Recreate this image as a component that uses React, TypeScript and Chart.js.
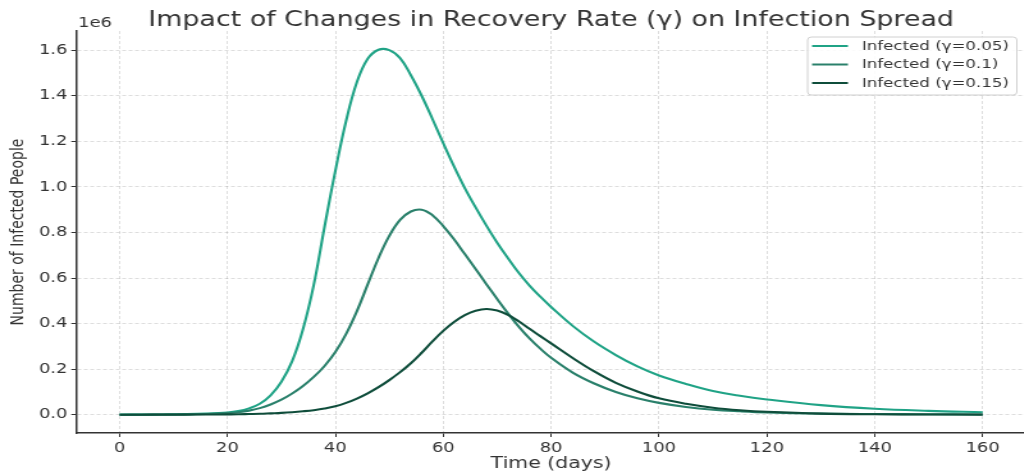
import React, { useEffect, useRef } from "react";
import { Chart, registerables } from "chart.js";

Chart.register(...registerables);

// ---- data ----
const days = [0, 4, 8, 12, 16, 20, 22, 24, 26, 28, 30, 32, 34, 36, 38, 40, 42, 44, 46, 48, 50, 52, 54, 56, 58, 60, 62, 64, 66, 68, 70, 72, 74, 76, 78, 80, 84, 88, 92, 96, 100, 105, 110, 115, 120, 130, 140, 150, 160];

const infectedG005 = [300, 600, 1300, 2500, 5000, 10000, 16000, 28000, 48000, 85000, 145000, 235000, 375000, 570000, 825000, 1070000, 1290000, 1460000, 1562000, 1602000, 1600000, 1565000, 1490000, 1400000, 1298000, 1192000, 1090000, 995000, 910000, 830000, 755000, 687000, 623000, 567000, 518000, 473000, 390000, 320000, 262000, 212000, 172000, 135000, 104000, 83000, 67000, 42000, 26000, 17000, 11000];

const infectedG010 = [200, 400, 800, 1500, 3000, 7000, 11000, 18000, 29000, 45000, 66000, 93000, 126000, 166000, 214000, 275000, 355000, 455000, 572000, 688000, 785000, 855000, 892000, 900000, 876000, 828000, 770000, 705000, 640000, 573000, 508000, 445000, 387000, 335000, 290000, 250000, 185000, 137000, 100000, 72000, 52000, 34000, 22000, 15000, 10000, 5000, 3000, 2000, 1000];

const infectedG015 = [100, 200, 300, 600, 1000, 1600, 2000, 3000, 4000, 6000, 8000, 11000, 15000, 20000, 27000, 37000, 52000, 71000, 94000, 121000, 152000, 187000, 226000, 272000, 322000, 368000, 407000, 437000, 456000, 464000, 457000, 438000, 410000, 377000, 345000, 313000, 249000, 190000, 140000, 102000, 72000, 48000, 31000, 20000, 13000, 5000, 2000, 1000, 500];

const seriesLabels = ["Infected (\u03b3=0.05)", "Infected (\u03b3=0.1)", "Infected (\u03b3=0.15)"];
const seriesColors = ["#20a386", "#2a806b", "#0f4d3b"];

const xTicks = [0, 20, 40, 60, 80, 100, 120, 140, 160];
const yTicks = [0, 200000, 400000, 600000, 800000, 1000000, 1200000, 1400000, 1600000];

const titleText = "Impact of Changes in Recovery Rate (\u03b3) on Infection Spread";
const xTitle = "Time (days)";
const yTitle = "Number of Infected People";
const offsetText = "1e6";

// ---- layout ----
const STRETCH = 1.28; // horizontal stretch of the rendered picture
const CANVAS_W = 804;
const CANVAS_H = 473;
const FONT = '"DejaVu Sans", Verdana, sans-serif';
const TEXT = "#333333";

const textPlugin = {
  id: "textOverlay",
  afterDraw(chart: any) {
    const { ctx, chartArea } = chart;
    const cx = (chartArea.left + chartArea.right) / 2;
    const cy = (chartArea.top + chartArea.bottom) / 2;
    ctx.save();
    ctx.fillStyle = TEXT;

    // title
    ctx.font = `21px ${FONT}`;
    ctx.textAlign = "center";
    ctx.textBaseline = "alphabetic";
    ctx.fillText(titleText, cx, 26);

    // x title
    ctx.font = `16px ${FONT}`;
    ctx.fillText(xTitle, cx, 468);

    // offset text
    ctx.font = `14px ${FONT}`;
    ctx.textAlign = "left";
    ctx.fillText(offsetText, 61, 27);

    // y title
    ctx.save();
    ctx.translate(14.3, cy);
    ctx.rotate(-Math.PI / 2);
    ctx.font = `14px ${FONT}`;
    ctx.textAlign = "center";
    ctx.textBaseline = "middle";
    ctx.fillText(yTitle, 0, 0);
    ctx.restore();

    // legend
    const bx = 631, by = 37, bw = 163.5, bh = 58, r = 3;
    ctx.beginPath();
    ctx.moveTo(bx + r, by);
    ctx.lineTo(bx + bw - r, by);
    ctx.quadraticCurveTo(bx + bw, by, bx + bw, by + r);
    ctx.lineTo(bx + bw, by + bh - r);
    ctx.quadraticCurveTo(bx + bw, by + bh, bx + bw - r, by + bh);
    ctx.lineTo(bx + r, by + bh);
    ctx.quadraticCurveTo(bx, by + bh, bx, by + bh - r);
    ctx.lineTo(bx, by + r);
    ctx.quadraticCurveTo(bx, by, bx + r, by);
    ctx.closePath();
    ctx.fillStyle = "rgba(255,255,255,0.85)";
    ctx.fill();
    ctx.strokeStyle = "#d0d0d0";
    ctx.lineWidth = 1;
    ctx.stroke();

    const rows = [46, 64.5, 83];
    ctx.font = `13px ${FONT}`;
    ctx.textAlign = "left";
    ctx.textBaseline = "middle";
    seriesLabels.forEach((lab, i) => {
      ctx.strokeStyle = seriesColors[i];
      ctx.lineWidth = 2;
      ctx.beginPath();
      ctx.moveTo(634.5, rows[i]);
      ctx.lineTo(662.5, rows[i]);
      ctx.stroke();
      ctx.fillStyle = TEXT;
      ctx.fillText(lab, 673.4, rows[i] + 0.5);
    });
    ctx.restore();
  },
};

export default function App() {
  const ref = useRef<HTMLCanvasElement | null>(null);

  useEffect(() => {
    document.body.style.margin = "0";
    const canvas = ref.current;
    if (!canvas) return;

    const series = [infectedG005, infectedG010, infectedG015];
    const datasets = series.map((vals, i) => ({
      label: seriesLabels[i],
      data: days.map((d, k) => ({ x: d, y: vals[k] })),
      borderColor: seriesColors[i],
      backgroundColor: seriesColors[i],
      borderWidth: 2.1,
      pointRadius: 0,
      fill: false,
      tension: 0.4,
      order: 3 - i,
    }));

    const gridCommon = {
      color: "rgba(0,0,0,0.17)",
      lineWidth: 0.8,
      tickColor: "#333333",
      tickLength: 4,
      tickWidth: 1,
      drawTicks: true,
    };

    const chart = new Chart(canvas, {
      type: "line",
      data: { datasets },
      options: {
        animation: false,
        responsive: false,
        devicePixelRatio: 1,
        layout: { padding: { top: 31, right: 2.5, left: 0, bottom: 0 } },
        plugins: {
          legend: { display: false },
          tooltip: { enabled: false },
          title: { display: false },
        },
        scales: {
          x: {
            type: "linear",
            min: -8,
            max: 168,
            afterBuildTicks: (s: any) => {
              s.ticks = xTicks.map((v) => ({ value: v }));
            },
            afterFit: (s: any) => {
              s.height = 40;
            },
            ticks: {
              autoSkip: false,
              maxRotation: 0,
              padding: 3,
              color: TEXT,
              font: { family: FONT, size: 14 },
              callback: (v: any) => String(v),
            },
            grid: gridCommon,
            border: { display: true, color: "#333333", width: 1.5, dash: [3, 2] },
          },
          y: {
            type: "linear",
            min: -80200,
            max: 1684200,
            afterBuildTicks: (s: any) => {
              s.ticks = yTicks.map((v) => ({ value: v }));
            },
            afterFit: (s: any) => {
              s.width = 59.7;
            },
            ticks: {
              autoSkip: false,
              padding: 3,
              color: TEXT,
              font: { family: FONT, size: 14 },
              callback: (v: any) => (Number(v) / 1e6).toFixed(1),
            },
            grid: gridCommon,
            border: { display: true, color: "#333333", width: 1.5, dash: [3, 2] },
          },
        },
      },
      plugins: [textPlugin],
    } as any);

    return () => chart.destroy();
  }, []);

  return (
    <div style={{ width: 1024, height: 473, overflow: "hidden", position: "relative", background: "#fff" }}>
      <canvas
        ref={ref}
        width={CANVAS_W}
        height={CANVAS_H}
        style={{ width: `${CANVAS_W * STRETCH}px`, height: `${CANVAS_H}px`, display: "block" }}
      />
    </div>
  );
}
